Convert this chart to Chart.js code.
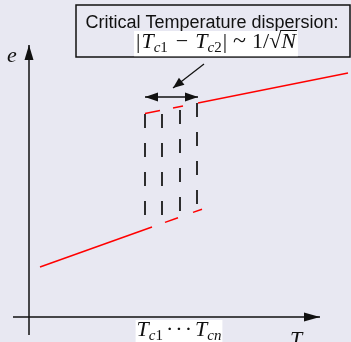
<!DOCTYPE html>
<html><head><meta charset="utf-8">
<script src="https://cdn.jsdelivr.net/npm/chart.js@4.4.0/dist/chart.umd.min.js"></script>
<style>
html,body{margin:0;padding:0;background:#e8e8f2;overflow:hidden}
#wrap{width:351px;height:342px;position:relative}
canvas{display:block}
</style>
</head><body><div id="wrap"><canvas id="c" width="351" height="342"></canvas></div>
<script>
// ---- data (T = temperature, e = energy), chart units ----
const xRange = [-2.9, 32.2];
const yRange = [-2.5, 31.7];
const axisT = [-1.6, 29.1];          // horizontal axis at e = 0
const axisE = [-1.8, 27.2];          // vertical axis at T = 0
const lowSolidT = [1.1, 12.3];
const lowSolidE = [5.0, 9.0];
const lowDashT = [13.6, 14.9, null, 16.4, 17.3];
const lowDashE = [9.46, 9.93, null, 10.46, 10.78];
const highDashT = [11.6, 13.1, null, 14.4, 15.4];
const highDashE = [20.34, 20.64, null, 20.9, 21.1];
const highSolidT = [16.9, 31.9];
const highSolidE = [21.4, 24.4];
const tcValues = [11.6, 13.3, 15.1, 16.8];
const tcTopE = [20.3, 20.3, 20.7, 21.4];
const tcBottomE = [10.2, 10.2, 10.5, 11.2];
const spreadT = [11.6, 16.9];
const spreadE = [22.0, 22.0];
const pointerT = [17.5, 14.4];
const pointerE = [25.3, 22.9];
const boxT = [4.7, 32.1];
const boxE = [31.2, 26.0];
const boxLines = ["Critical Temperature dispersion:"];

// ---- build datasets ----
function segs(T, E) {
  const out = []; let cur = [];
  T.forEach((t, i) => {
    if (t === null) { if (cur.length) out.push(cur); cur = []; }
    else cur.push({x: t, y: E[i]});
  });
  if (cur.length) out.push(cur);
  return out;
}
const BLACK = '#111', RED = '#ff0000';
const ds = [];
function line(points, color, width, dash) {
  ds.push({data: points, showLine: true, borderColor: color, borderWidth: width,
    borderDash: dash || [], pointRadius: 0, borderCapStyle: 'butt', fill: false, tension: 0});
}
line([{x: axisT[0], y: 0}, {x: axisT[1], y: 0}], BLACK, 1.5);
line([{x: 0, y: axisE[0]}, {x: 0, y: axisE[1]}], BLACK, 1.5);
segs(lowSolidT, lowSolidE).forEach(s => line(s, RED, 1.5));
segs(lowDashT, lowDashE).forEach(s => line(s, RED, 1.5));
segs(highDashT, highDashE).forEach(s => line(s, RED, 1.5));
segs(highSolidT, highSolidE).forEach(s => line(s, RED, 1.5));
tcValues.forEach((t, i) => line([{x: t, y: tcTopE[i]}, {x: t, y: tcBottomE[i]}], '#1a1a1a', 1.8, [14, 15]));
line([{x: spreadT[0], y: spreadE[0]}, {x: spreadT[1], y: spreadE[1]}], BLACK, 1.5);
line([{x: pointerT[0], y: pointerE[0]}, {x: pointerT[1], y: pointerE[1]}], BLACK, 1.2);

// ---- drawing helpers ----
function head(ctx, x0, y0, x1, y1, len, hw) {
  const a = Math.atan2(y1 - y0, x1 - x0), c = Math.cos(a), s = Math.sin(a);
  ctx.beginPath();
  ctx.moveTo(x1, y1);
  ctx.lineTo(x1 - len * c + hw * s, y1 - len * s - hw * c);
  ctx.lineTo(x1 - len * c - hw * s, y1 - len * s + hw * c);
  ctx.closePath(); ctx.fill();
}
const SERIF = '"Liberation Serif", "Times New Roman", serif';
function runWidth(ctx, run) {
  let w = 0;
  run.forEach(p => { ctx.font = p.f; w += (p.t ? ctx.measureText(p.t).width : 0) + (p.g || 0); });
  return w;
}
function drawRun(ctx, run, cx, base) {
  const w = runWidth(ctx, run); let x = cx - w / 2;
  const info = [];
  run.forEach(p => {
    ctx.font = p.f;
    if (p.t) {
      const m = ctx.measureText(p.t);
      ctx.fillText(p.t, x, base + (p.dy || 0));
      info.push({t: p.t, x: x, w: m.width, asc: m.actualBoundingBoxAscent});
      x += m.width;
    }
    x += p.g || 0;
  });
  return {w: w, left: cx - w / 2, info: info};
}
const IT = s => 'italic ' + s + 'px ' + SERIF;
const RG = s => s + 'px ' + SERIF;
const mathRun = [
  {t: '|', f: RG(22), g: 1}, {t: 'T', f: IT(22)}, {t: 'c', f: IT(15), dy: 4}, {t: '1', f: RG(15), dy: 4, g: 8},
  {t: '\u2212', f: RG(22), g: 7}, {t: 'T', f: IT(22)}, {t: 'c', f: IT(15), dy: 4}, {t: '2', f: RG(15), dy: 4, g: 1},
  {t: '|', f: RG(22), g: 6}, {t: '~', f: RG(24), g: 6}, {t: '1', f: RG(22)}, {t: '/', f: RG(22)},
  {t: '\u221A', f: RG(22)}, {t: 'N', f: IT(22)}
];
const tcRun = [
  {t: 'T', f: IT(22)}, {t: 'c', f: IT(15), dy: 4}, {t: '1', f: RG(15), dy: 4, g: 3},
  {t: '\u00B7', f: RG(22), g: 2}, {t: '\u00B7', f: RG(22), g: 2}, {t: '\u00B7', f: RG(22), g: 3},
  {t: 'T', f: IT(22)}, {t: 'cn', f: IT(15), dy: 4}
];

const sketch = {
  id: 'sketch',
  afterDatasetsDraw(chart) {
    const ctx = chart.ctx, X = chart.scales.x, Y = chart.scales.y;
    const px = v => X.getPixelForValue(v), py = v => Y.getPixelForValue(v);
    ctx.save();
    ctx.fillStyle = BLACK;
    // axis arrowheads
    head(ctx, px(0), py(axisE[0]), px(0), py(axisE[1]), 15, 4.5);
    head(ctx, px(axisT[0]), py(0), px(axisT[1]), py(0), 16, 4.5);
    // double arrow
    head(ctx, px(spreadT[1]), py(spreadE[1]), px(spreadT[0]), py(spreadE[0]), 13, 4.5);
    head(ctx, px(spreadT[0]), py(spreadE[0]), px(spreadT[1]), py(spreadE[1]), 13, 4.5);
    // pointer
    head(ctx, px(pointerT[0]), py(pointerE[0]), px(pointerT[1]), py(pointerE[1]), 11, 4.5);
    // box
    const bx0 = px(boxT[0]), bx1 = px(boxT[1]), by0 = py(boxE[0]), by1 = py(boxE[1]);
    ctx.lineWidth = 1.5; ctx.strokeStyle = BLACK;
    ctx.strokeRect(bx0, by0, bx1 - bx0, by1 - by0);
    const bcx = (bx0 + bx1) / 2;
    ctx.textBaseline = 'alphabetic';
    ctx.font = '18px "Liberation Sans", Arial, sans-serif';
    ctx.textAlign = 'center';
    ctx.fillText(boxLines[0], bcx - 1, by0 + 23);
    ctx.textAlign = 'left';
    // math line with white background
    const mcx = bcx + 3;
    const mw = runWidth(ctx, mathRun);
    ctx.fillStyle = '#ffffff';
    ctx.fillRect(mcx - mw / 2 - 2, by0 + 26, mw + 4, by1 - by0 - 26.8);
    ctx.fillStyle = BLACK;
    const r = drawRun(ctx, mathRun, mcx, by0 + 43);
    const sq = r.info[r.info.length - 2], nn = r.info[r.info.length - 1];
    ctx.lineWidth = 1;
    ctx.beginPath();
    const oy = by0 + 43 - sq.asc + 0.5;
    ctx.moveTo(sq.x + sq.w - 1, oy); ctx.lineTo(nn.x + nn.w + 1, oy); ctx.stroke();
    // e label
    ctx.font = IT(22);
    ctx.fillText('e', px(0) - 22, py(axisE[1]) + 17);
    // T label
    ctx.fillText('T', px(axisT[1]) - 30, py(0) + 29);
    // Tc1...Tcn label with white background
    const tcx = px((tcValues[0] + tcValues[tcValues.length - 1]) / 2) + 8;
    const tw = runWidth(ctx, tcRun);
    ctx.fillStyle = '#ffffff';
    ctx.fillRect(tcx - tw / 2 - 1, py(0) + 3, tw + 2, 30);
    ctx.fillStyle = BLACK;
    drawRun(ctx, tcRun, tcx, py(0) + 19);
    ctx.restore();
  }
};

new Chart(document.getElementById('c'), {
  type: 'scatter',
  data: {datasets: ds},
  options: {
    responsive: false, animation: false, devicePixelRatio: 1,
    layout: {padding: 0},
    plugins: {legend: {display: false}, tooltip: {enabled: false}, title: {display: false}},
    scales: {
      x: {type: 'linear', min: xRange[0], max: xRange[1], display: false},
      y: {type: 'linear', min: yRange[0], max: yRange[1], display: false}
    }
  },
  plugins: [sketch]
});
</script>
</body></html>
